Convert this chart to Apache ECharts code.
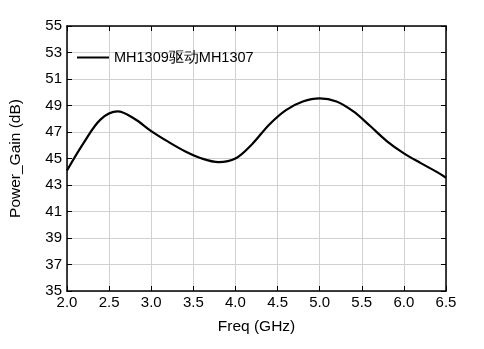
<!DOCTYPE html>
<html>
<head>
<meta charset="utf-8">
<script src="https://cdn.jsdelivr.net/npm/echarts@6/dist/echarts.min.js"></script>
<style>
  html, body { margin: 0; padding: 0; background: #fff; }
  #main { width: 484px; height: 349px; }
</style>
</head>
<body>
<div id="main"></div>
<script>
const freq = [2.0, 2.2, 2.4, 2.6, 2.8, 3.0, 3.2, 3.4, 3.6, 3.8, 4.0, 4.2,
  4.4, 4.6, 4.8, 5.0, 5.2, 5.4, 5.6, 5.8, 6.0, 6.2, 6.4, 6.5];
const gain = [44.1, 46.2, 47.95, 48.55, 48.0, 47.07, 46.27, 45.55, 45.0, 44.73, 45.0, 46.1,
  47.55, 48.65, 49.3, 49.54, 49.3, 48.55, 47.45, 46.3, 45.39, 44.65, 43.95, 43.55];
const seriesName = 'MH1309驱动MH1307';

const chart = echarts.init(document.getElementById('main'));
const font = 'Liberation Sans, Arial, sans-serif';

chart.setOption({
  animation: false,
  textStyle: { fontFamily: font },
  grid: { left: 65, right: 38, top: 26, bottom: 58 },
  legend: {
    left: 72, top: 45,
    itemWidth: 32, itemHeight: 14, itemGap: 5,
    textStyle: { fontSize: 14.5, color: '#000', fontFamily: font },
    data: [{ name: seriesName, icon: 'path://M0,6L32,6L32,8L0,8Z' }]
  },
  xAxis: [{
    type: 'value', min: 2, max: 6.5, interval: 0.5,
    name: 'Freq (GHz)', nameLocation: 'middle', nameGap: 28,
    nameTextStyle: { fontSize: 15.5, color: '#000' },
    axisLine: { lineStyle: { color: '#000', width: 1.5 } },
    axisTick: { inside: true, length: 5, lineStyle: { color: '#000' } },
    axisLabel: { fontSize: 15, color: '#000', margin: 4, formatter: v => v.toFixed(1) },
    splitLine: { lineStyle: { color: '#d0d0d0' } }
  }, {
    type: 'value', min: 2, max: 6.5, interval: 0.5, position: 'top',
    axisLine: { lineStyle: { color: '#000', width: 1.5 } },
    axisTick: { inside: true, length: 5, lineStyle: { color: '#000' } },
    axisLabel: { show: false },
    splitLine: { show: false }
  }],
  yAxis: [{
    type: 'value', min: 35, max: 55, interval: 2,
    name: 'Power_Gain (dB)', nameLocation: 'middle', nameGap: 43,
    nameTextStyle: { fontSize: 15.5, color: '#000' },
    axisLine: { lineStyle: { color: '#000', width: 1.5 } },
    axisTick: { inside: true, length: 5, lineStyle: { color: '#000' } },
    axisLabel: { fontSize: 15, color: '#000', margin: 5 },
    splitLine: { lineStyle: { color: '#d0d0d0' } }
  }, {
    type: 'value', min: 35, max: 55, interval: 2, position: 'right',
    axisLine: { lineStyle: { color: '#000', width: 1.5 } },
    axisTick: { inside: true, length: 5, lineStyle: { color: '#000' } },
    axisLabel: { show: false },
    splitLine: { show: false }
  }],
  series: [{
    name: seriesName,
    type: 'line',
    smooth: 0.35,
    symbol: 'none',
    lineStyle: { color: '#000', width: 2.2 },
    itemStyle: { color: '#000' },
    data: freq.map((f, i) => [f, gain[i]])
  }]
});
</script>
</body>
</html>
